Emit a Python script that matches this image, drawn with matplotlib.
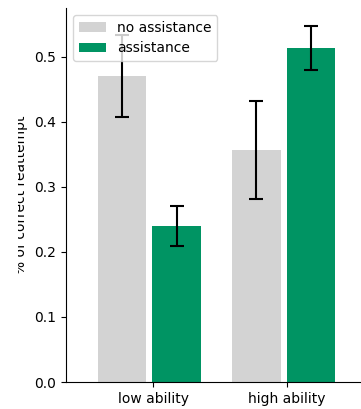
import numpy as np
import matplotlib
matplotlib.use("Agg")
import matplotlib.pyplot as plt
from matplotlib.transforms import Bbox

# data
groups = ["low ability", "high ability"]
series = ["no assistance", "assistance"]
means_no = [0.470, 0.357]
err_no = [0.063, 0.075]
means_yes = [0.240, 0.514]
err_yes = [0.031, 0.034]

colors = ["#d3d3d3", "#009463"]

W, H = 361, 409
fig = plt.figure(figsize=(W / 100, H / 100), dpi=100)
ax = fig.add_axes([66 / W, (H - 382) / H, (W - 66) / W, (382 - 8) / H])

x = np.arange(len(groups))
width = 0.36
ax.bar(x - 0.23, means_no, width, color=colors[0], label=series[0],
       yerr=err_no, capsize=5, error_kw=dict(elinewidth=1.5, capthick=1.5, ecolor="black"))
ax.bar(x + 0.175, means_yes, width, color=colors[1], label=series[1],
       yerr=err_yes, capsize=5, error_kw=dict(elinewidth=1.5, capthick=1.5, ecolor="black"))

ax.set_xticks(x)
ax.set_xticklabels(groups, fontsize=10)
ax.set_xlim(-0.65, 1.55)
ax.set_ylim(0, 0.575)
ax.set_yticks(np.arange(0, 0.51, 0.1))
ax.tick_params(labelsize=10)
ax.spines["top"].set_visible(False)
ax.spines["right"].set_visible(False)
ax.legend(loc="upper left", fontsize=10)

ylab = ax.set_ylabel("% of correct reattempt", fontsize=10)
ax.yaxis.set_label_coords(-0.128, 0.5)
# the reference has the label cut off at the left
ylab.set_clip_box(Bbox([[18, 0], [W, H]]))
ylab.set_clip_on(True)

fig.savefig("out.png", dpi=100)
